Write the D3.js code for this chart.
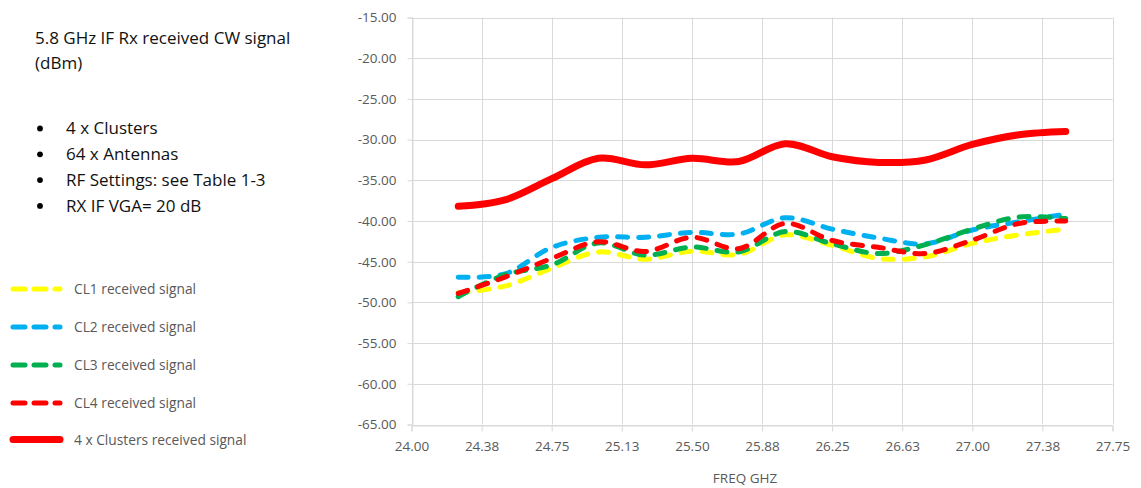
<!DOCTYPE html>
<html>
<head>
<meta charset="utf-8">
<script src="https://cdn.jsdelivr.net/npm/d3@7"></script>
<style>
  html, body { margin: 0; padding: 0; background: #ffffff; }
  svg { display: block; font-family: "Open Sans", "Liberation Sans", sans-serif; }
</style>
</head>
<body>
<svg id="chart" width="1141" height="488"></svg>
<script>
// Measured frequencies (GHz)
const freq = [24.25, 24.5, 24.75, 25.0, 25.25, 25.5, 25.75, 26.0, 26.25, 26.5, 26.75, 27.0, 27.25, 27.5];

// Received CW signal per cluster (dBm)
const cl1 = [-48.8, -48.0, -45.8, -43.8, -44.7, -43.7, -44.1, -41.7, -43.0, -44.6, -44.4, -42.75, -41.7, -41.0];
const cl2 = [-46.9, -46.5, -43.25, -42.0, -42.0, -41.4, -41.6, -39.6, -41.0, -42.1, -42.8, -41.1, -40.1, -39.15];
const cl3 = [-49.3, -46.6, -45.4, -42.7, -44.2, -43.2, -43.8, -41.3, -42.8, -44.0, -42.9, -41.0, -39.5, -39.7];
const cl4 = [-48.9, -46.9, -44.6, -42.55, -43.75, -42.0, -43.4, -40.3, -42.4, -43.25, -44.0, -42.35, -40.3, -40.0];
// Combined signal of all four clusters (dBm)
const total = [-38.2, -37.4, -34.8, -32.3, -33.1, -32.3, -32.7, -30.5, -32.1, -32.8, -32.5, -30.6, -29.4, -29.0];

// Axis ticks
const xTicks = [24.0, 24.375, 24.75, 25.125, 25.5, 25.875, 26.25, 26.625, 27.0, 27.375, 27.75];
const xTickLabels = ["24.00", "24.38", "24.75", "25.13", "25.50", "25.88", "26.25", "26.63", "27.00", "27.38", "27.75"];
const yTicks = [-15, -20, -25, -30, -35, -40, -45, -50, -55, -60, -65];
const yTickLabels = ["-15.00", "-20.00", "-25.00", "-30.00", "-35.00", "-40.00", "-45.00", "-50.00", "-55.00", "-60.00", "-65.00"];

// Series names and colours
const seriesNames = ["CL1 received signal", "CL2 received signal", "CL3 received signal", "CL4 received signal", "4 x Clusters received signal"];
const seriesColors = ["#FFFF00", "#00B0F0", "#00B050", "#FF0000", "#FF0000"];

// Side notes
const titleLines = ["5.8 GHz IF Rx received CW signal", "(dBm)"];
const bullets = ["4 x Clusters", "64 x Antennas", "RF Settings: see Table 1-3", "RX IF VGA= 20 dB"];

const svg = d3.select("#chart");
const plot = { left: 411.5, right: 1112.5, top: 17.5, bottom: 424.5 };

const x = d3.scaleLinear().domain([24, 27.75]).range([plot.left, plot.right]);
const y = d3.scaleLinear().domain([-65, -15]).range([plot.bottom, plot.top]);

const gridColor = "#d9d9d9";
const labelColor = "#595959";

// Gridlines
const grid = svg.append("g");
grid.selectAll("line.h").data(yTicks).join("line")
  .attr("x1", plot.left).attr("x2", plot.right)
  .attr("y1", d => Math.round(y(d)) + 0.5).attr("y2", d => Math.round(y(d)) + 0.5)
  .attr("stroke", gridColor).attr("stroke-width", 1);
grid.selectAll("line.v").data(xTicks).join("line")
  .attr("y1", plot.top).attr("y2", plot.bottom)
  .attr("x1", d => Math.round(x(d)) + 0.5).attr("x2", d => Math.round(x(d)) + 0.5)
  .attr("stroke", gridColor).attr("stroke-width", 1);

// Y axis
const yAxis = d3.axisLeft(y).tickValues(yTicks)
  .tickFormat((d, i) => yTickLabels[i]).tickSize(5).tickPadding(11);
const gy = svg.append("g").attr("transform", `translate(${Math.round(plot.left) + 0.5},0)`).call(yAxis);
gy.select(".domain").attr("stroke", gridColor);
gy.selectAll(".tick line").attr("stroke", gridColor);
gy.selectAll(".tick text").attr("fill", labelColor)
  .style("font-family", "Open Sans, sans-serif").style("font-size", "13.5px");

// X axis
const xAxis = d3.axisBottom(x).tickValues(xTicks)
  .tickFormat((d, i) => xTickLabels[i]).tickSize(6).tickPadding(10);
const gx = svg.append("g").attr("transform", `translate(0,${Math.round(plot.bottom) + 0.5})`).call(xAxis);
gx.select(".domain").attr("stroke", gridColor);
gx.selectAll(".tick line").attr("stroke", gridColor);
gx.selectAll(".tick text").attr("fill", labelColor)
  .style("font-family", "Open Sans, sans-serif").style("font-size", "13.5px");

svg.append("text")
  .attr("x", 745).attr("y", 483)
  .attr("text-anchor", "middle")
  .attr("fill", labelColor)
  .style("font-size", "13.5px")
  .text("FREQ GHZ");

// Lines
const line = d3.line()
  .x(d => x(d[0]))
  .y(d => y(d[1]))
  .curve(d3.curveCatmullRom.alpha(0.5));

const series = [cl1, cl2, cl3, cl4, total];
const dashStyle = "10,11";

series.forEach((vals, i) => {
  const pts = freq.map((f, j) => [f, vals[j]]);
  const isTotal = i === 4;
  svg.append("path")
    .datum(pts)
    .attr("d", line)
    .attr("fill", "none")
    .attr("stroke", seriesColors[i])
    .attr("stroke-width", isTotal ? 7 : 5)
    .attr("stroke-linecap", "round")
    .attr("stroke-linejoin", "round")
    .attr("stroke-dasharray", isTotal ? null : dashStyle);
});

// Side notes
const notes = svg.append("g").attr("fill", "#111111").style("font-size", "17px");
titleLines.forEach((t, i) => {
  notes.append("text").attr("x", 35).attr("y", 44 + i * 24.5).text(t);
});
bullets.forEach((t, i) => {
  const cy = 128.5 + i * 25.8;
  notes.append("circle").attr("cx", 40).attr("cy", cy).attr("r", 2.9).attr("fill", "#000");
  notes.append("text").attr("x", 66).attr("y", cy + 5.8).text(t);
});

// Legend
const legendRows = [289, 327, 365, 403, 439.5];
const legend = svg.append("g");
seriesNames.forEach((name, i) => {
  const ly = legendRows[i];
  const isTotal = i === 4;
  legend.append("line")
    .attr("x1", 13).attr("x2", 60).attr("y1", ly).attr("y2", ly)
    .attr("stroke", seriesColors[i])
    .attr("stroke-width", isTotal ? 7 : 5)
    .attr("stroke-linecap", "round")
    .attr("stroke-dasharray", isTotal ? null : "12,9");
  legend.append("text")
    .attr("x", 74).attr("y", ly + 5)
    .attr("fill", labelColor)
    .style("font-size", "13.75px")
    .text(name);
});
</script>
</body>
</html>
